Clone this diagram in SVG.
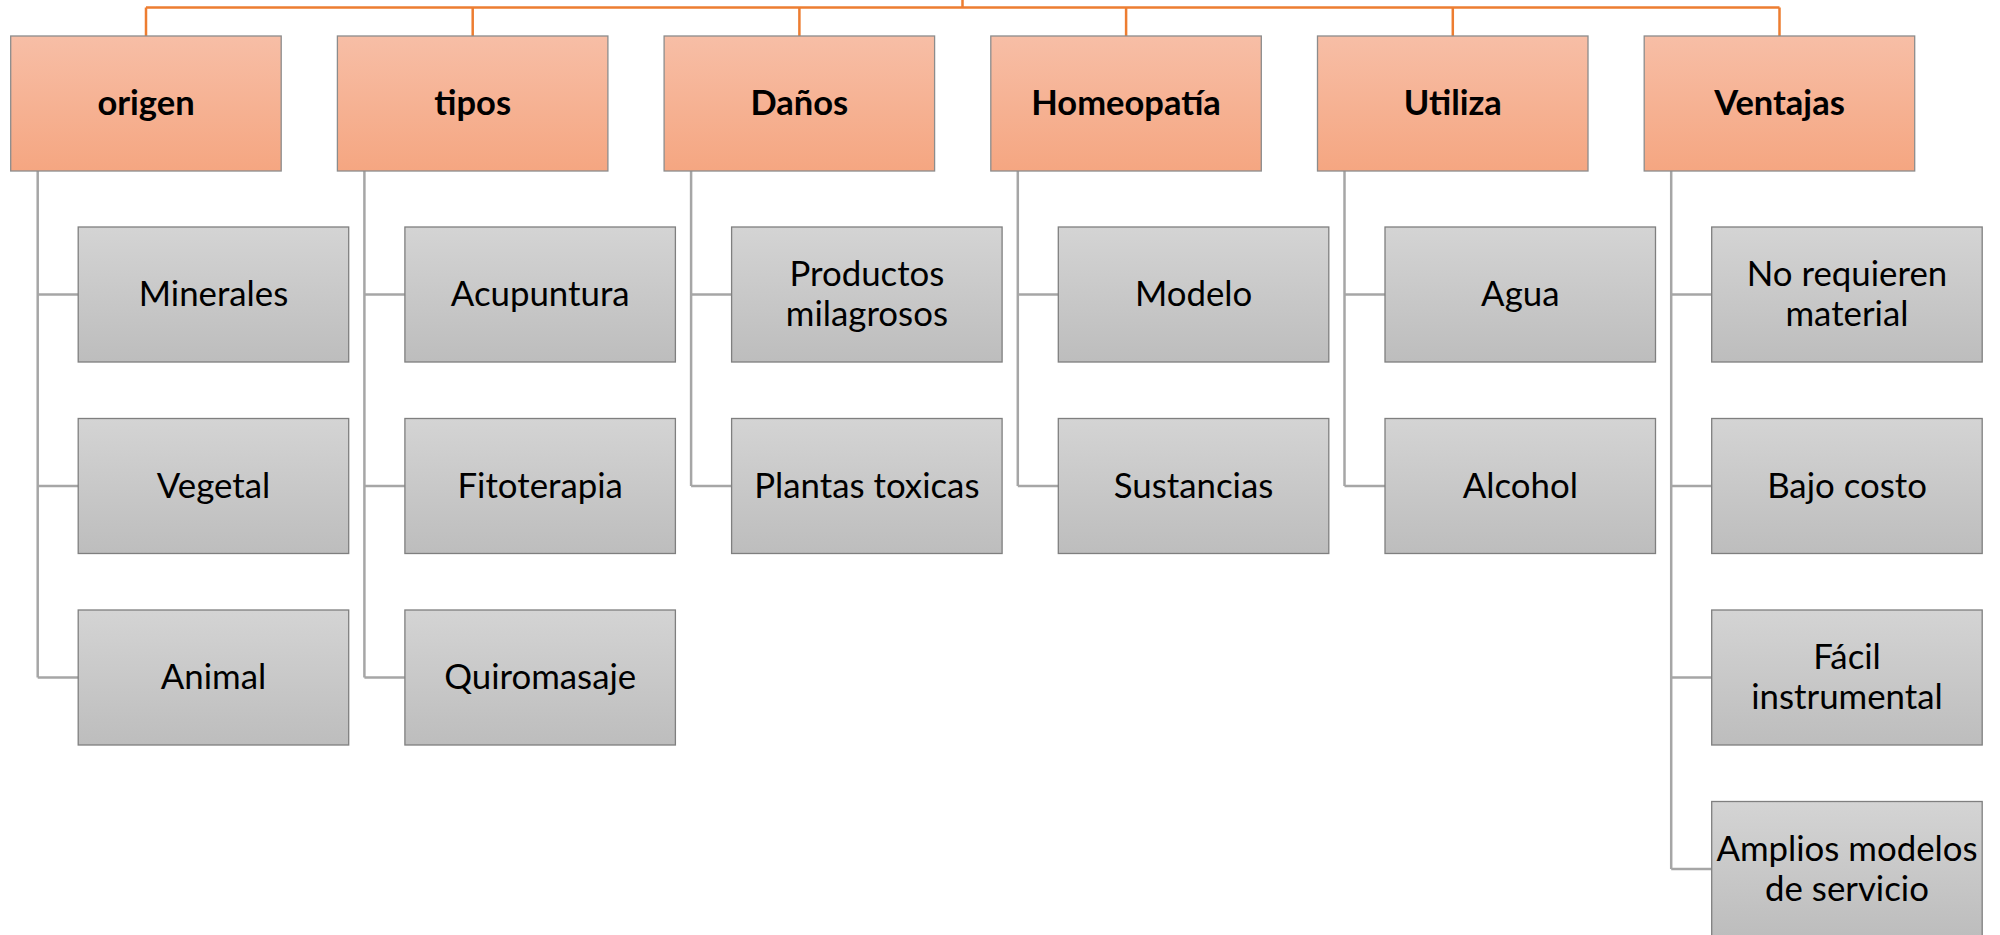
<svg xmlns="http://www.w3.org/2000/svg" width="2000" height="935" viewBox="0 0 2000 935">
<style>
.hd{fill:url(#og);stroke:#8c8c8c;stroke-width:1.3}
.ch{fill:url(#gg);stroke:#7f7f7f;stroke-width:1.3}
.ht{font-family:Lato,"Liberation Sans",sans-serif;font-weight:bold;font-size:34.5px;fill:#000;text-anchor:middle}
.ct{font-family:Lato,"Liberation Sans",sans-serif;font-size:34.8px;fill:#000;text-anchor:middle}
.oc{stroke:#ED7D31;stroke-width:2.5;fill:none}
.gc{stroke:#A6A6A6;stroke-width:2.5;fill:none}
</style>
<defs>
<linearGradient id="og" x1="0" y1="0" x2="0" y2="1"><stop offset="0" stop-color="#F7BEA6"/><stop offset="1" stop-color="#F5A681"/></linearGradient>
<linearGradient id="gg" x1="0" y1="0" x2="0" y2="1"><stop offset="0" stop-color="#D4D4D4"/><stop offset="1" stop-color="#BDBDBD"/></linearGradient>
</defs>
<g id="connectors">
<path class="oc" d="M962.5 0V7.5M146 7.5H1779.5M146 7.5V36M472.7 7.5V36M799.4 7.5V36M1126.1 7.5V36M1452.8 7.5V36M1779.5 7.5V36"/>
<path class="gc" d="M37.7 171V677.5M37.7 294.5H78.2M37.7 486H78.2M37.7 677.5H78.2"/>
<path class="gc" d="M364.4 171V677.5M364.4 294.5H404.9M364.4 486H404.9M364.4 677.5H404.9"/>
<path class="gc" d="M691.1 171V486M691.1 294.5H731.6M691.1 486H731.6"/>
<path class="gc" d="M1017.8 171V486M1017.8 294.5H1058.3M1017.8 486H1058.3"/>
<path class="gc" d="M1344.5 171V486M1344.5 294.5H1385M1344.5 486H1385"/>
<path class="gc" d="M1671.2 171V869M1671.2 294.5H1711.7M1671.2 486H1711.7M1671.2 677.5H1711.7M1671.2 869H1711.7"/>
</g>
<g id="origen"><rect class="hd" x="10.7" y="36" width="270.5" height="135"/><text class="ht" x="146" y="115">origen</text></g>
<g id="tipos"><rect class="hd" x="337.4" y="36" width="270.5" height="135"/><text class="ht" x="472.7" y="115">tipos</text></g>
<g id="danos"><rect class="hd" x="664.1" y="36" width="270.5" height="135"/><text class="ht" x="799.4" y="115">Daños</text></g>
<g id="homeopatia"><rect class="hd" x="990.8" y="36" width="270.5" height="135"/><text class="ht" x="1126.1" y="115">Homeopatía</text></g>
<g id="utiliza"><rect class="hd" x="1317.5" y="36" width="270.5" height="135"/><text class="ht" x="1452.8" y="115">Utiliza</text></g>
<g id="ventajas"><rect class="hd" x="1644.2" y="36" width="270.5" height="135"/><text class="ht" x="1779.5" y="115">Ventajas</text></g>

<g id="minerales"><rect class="ch" x="78.2" y="227" width="270.5" height="135"/><text class="ct" x="213.5" y="306">Minerales</text></g>
<g id="vegetal"><rect class="ch" x="78.2" y="418.5" width="270.5" height="135"/><text class="ct" x="213.5" y="497.5">Vegetal</text></g>
<g id="animal"><rect class="ch" x="78.2" y="610" width="270.5" height="135"/><text class="ct" x="213.5" y="689">Animal</text></g>

<g id="acupuntura"><rect class="ch" x="404.9" y="227" width="270.5" height="135"/><text class="ct" x="540.2" y="306">Acupuntura</text></g>
<g id="fitoterapia"><rect class="ch" x="404.9" y="418.5" width="270.5" height="135"/><text class="ct" x="540.2" y="497.5">Fitoterapia</text></g>
<g id="quiromasaje"><rect class="ch" x="404.9" y="610" width="270.5" height="135"/><text class="ct" x="540.2" y="689">Quiromasaje</text></g>

<g id="productos"><rect class="ch" x="731.6" y="227" width="270.5" height="135"/><text class="ct" x="866.9" y="286">Productos</text><text class="ct" x="866.9" y="326">milagrosos</text></g>
<g id="plantas"><rect class="ch" x="731.6" y="418.5" width="270.5" height="135"/><text class="ct" x="866.9" y="497.5">Plantas toxicas</text></g>

<g id="modelo"><rect class="ch" x="1058.3" y="227" width="270.5" height="135"/><text class="ct" x="1193.6" y="306">Modelo</text></g>
<g id="sustancias"><rect class="ch" x="1058.3" y="418.5" width="270.5" height="135"/><text class="ct" x="1193.6" y="497.5">Sustancias</text></g>

<g id="agua"><rect class="ch" x="1385" y="227" width="270.5" height="135"/><text class="ct" x="1520.3" y="306">Agua</text></g>
<g id="alcohol"><rect class="ch" x="1385" y="418.5" width="270.5" height="135"/><text class="ct" x="1520.3" y="497.5">Alcohol</text></g>

<g id="norequieren"><rect class="ch" x="1711.7" y="227" width="270.5" height="135"/><text class="ct" x="1847" y="286">No requieren</text><text class="ct" x="1847" y="326">material</text></g>
<g id="bajocosto"><rect class="ch" x="1711.7" y="418.5" width="270.5" height="135"/><text class="ct" x="1847" y="497.5">Bajo costo</text></g>
<g id="facil"><rect class="ch" x="1711.7" y="610" width="270.5" height="135"/><text class="ct" x="1847" y="669">Fácil</text><text class="ct" x="1847" y="709">instrumental</text></g>
<g id="amplios"><rect class="ch" x="1711.7" y="801.5" width="270.5" height="135"/><text class="ct" x="1847" y="860.5">Amplios modelos</text><text class="ct" x="1847" y="900.5">de servicio</text></g>
</svg>
